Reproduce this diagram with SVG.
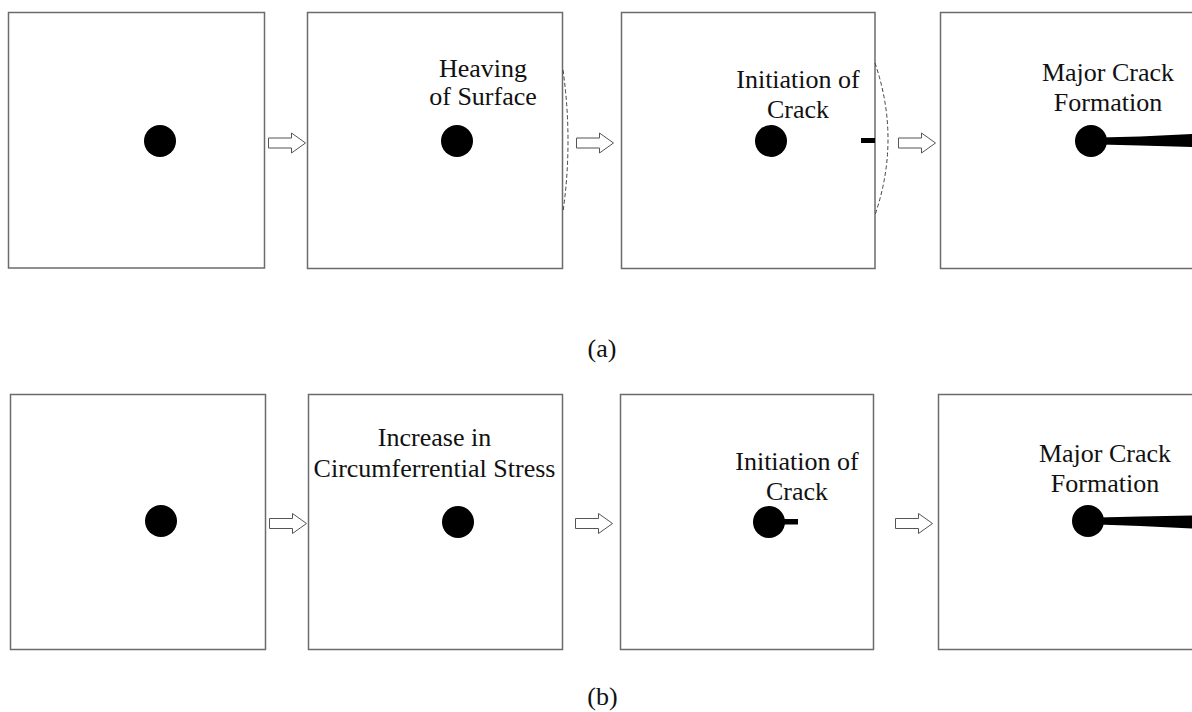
<svg xmlns="http://www.w3.org/2000/svg" width="1192" height="712" viewBox="0 0 1192 712">
<style>
.box{fill:#fff;stroke:#6b6b6b;stroke-width:1.5}
.dot{fill:#000}
.lbl{font-size:26px;fill:#111;text-anchor:middle}
.arr{fill:#fff;stroke:#555;stroke-width:1}
.dash{fill:none;stroke:#444;stroke-width:1;stroke-dasharray:4,2.5}
.crack{fill:#000}
</style>
<defs>
<path id="arw" class="arr" d="M0,-5 L23,-5 L23,-10 L37,0 L23,10 L23,5 L0,5 Z"/>
</defs>
<rect width="1192" height="712" fill="#fff"/>
<g id="a1"><rect class="box" x="8.5" y="12.5" width="256" height="255.5"/><circle class="dot" cx="160" cy="141" r="16"/></g>
<g id="a2"><rect class="box" x="307.5" y="12.5" width="255" height="256"/><circle class="dot" cx="457" cy="141" r="16"/>
<text class="lbl" font-family="Liberation Serif" x="483" y="77">Heaving</text><text class="lbl" font-family="Liberation Serif" x="483" y="105">of Surface</text>
<path class="dash" d="M563,70 Q573,141 563,212"/></g>
<g id="a3"><rect class="box" x="621.5" y="12.5" width="253.5" height="256"/><circle class="dot" cx="771" cy="141" r="16"/>
<text class="lbl" font-family="Liberation Serif" x="798" y="88">Initiation of</text><text class="lbl" font-family="Liberation Serif" x="798" y="118">Crack</text>
<rect class="crack" x="861" y="138" width="14" height="5"/>
<path class="dash" d="M875,63 Q901,139 875,215"/></g>
<g id="a4"><rect class="box" x="940.5" y="12.5" width="260" height="256"/><circle class="dot" cx="1091" cy="141" r="16"/>
<text class="lbl" font-family="Liberation Serif" x="1108" y="81">Major Crack</text><text class="lbl" font-family="Liberation Serif" x="1108" y="111">Formation</text>
<polygon class="crack" points="1100,137.5 1140,136.5 1192,134 1192,147 1140,145.5 1100,144.5"/></g>

<g id="b1"><rect class="box" x="10.5" y="394.5" width="255" height="255"/><circle class="dot" cx="161" cy="521" r="16"/></g>
<g id="b2"><rect class="box" x="308.5" y="394.5" width="254" height="255"/><circle class="dot" cx="458" cy="522" r="16"/>
<text class="lbl" font-family="Liberation Serif" x="434.5" y="446">Increase in</text><text class="lbl" font-family="Liberation Serif" x="434.5" y="477">Circumferrential Stress</text></g>
<g id="b3"><rect class="box" x="620.5" y="394.5" width="253" height="255"/><circle class="dot" cx="769" cy="522" r="16"/>
<text class="lbl" font-family="Liberation Serif" x="797" y="470">Initiation of</text><text class="lbl" font-family="Liberation Serif" x="797" y="500">Crack</text>
<rect class="crack" x="780" y="519" width="18" height="5.5"/></g>
<g id="b4"><rect class="box" x="938.5" y="394.5" width="262" height="255"/><circle class="dot" cx="1088" cy="521" r="16"/>
<text class="lbl" font-family="Liberation Serif" x="1105" y="462">Major Crack</text><text class="lbl" font-family="Liberation Serif" x="1105" y="492">Formation</text>
<polygon class="crack" points="1098,517.5 1140,516.5 1192,515.5 1192,528.5 1140,526 1098,524.5"/></g>

<g id="connectors">
<use href="#arw" x="268.5" y="143"/>
<use href="#arw" x="576.5" y="143"/>
<use href="#arw" x="898.5" y="143"/>
<use href="#arw" x="269.5" y="523.5"/>
<use href="#arw" x="575.5" y="523.5"/>
<use href="#arw" x="895.5" y="523.5"/>
</g>

<text class="lbl" font-family="Liberation Serif" x="602" y="357">(a)</text>
<text class="lbl" font-family="Liberation Serif" x="602.5" y="705">(b)</text>
</svg>
